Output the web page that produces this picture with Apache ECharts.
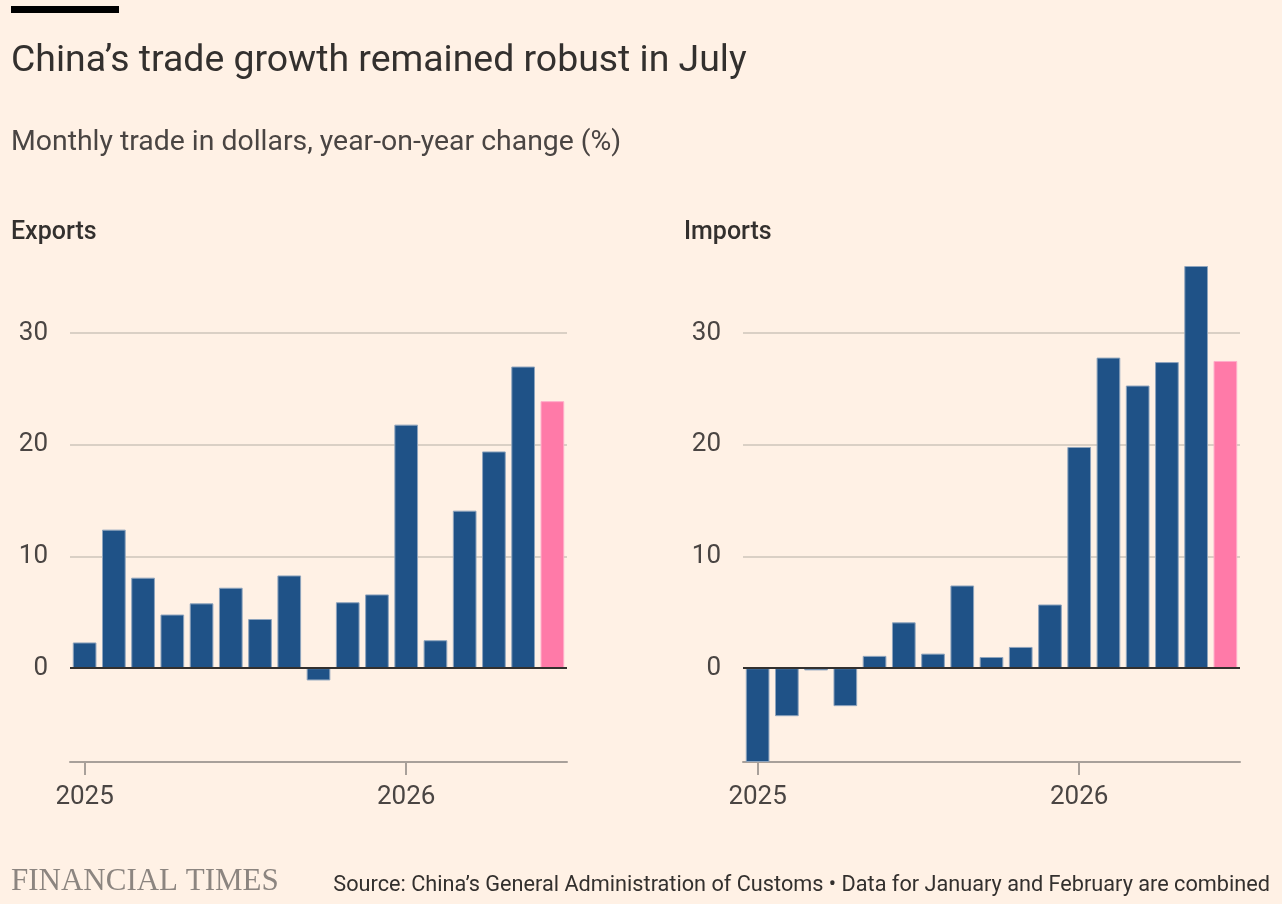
<!DOCTYPE html>
<html>
<head>
<meta charset="utf-8">
<script src="https://cdn.jsdelivr.net/npm/echarts@6/dist/echarts.min.js"></script>
<style>
  html, body { margin: 0; padding: 0; background: #fff1e5; }
  #chart { width: 1282px; height: 904px; }
</style>
</head>
<body>
<div id="chart"></div>
<script>
// monthly categories, Jan and Feb combined
const months = [
  '2025 Jan-Feb', '2025 Mar', '2025 Apr', '2025 May', '2025 Jun', '2025 Jul',
  '2025 Aug', '2025 Sep', '2025 Oct', '2025 Nov', '2025 Dec',
  '2026 Jan-Feb', '2026 Mar', '2026 Apr', '2026 May', '2026 Jun', '2026 Jul'
]
const exportsYoY = [2.3, 12.4, 8.1, 4.8, 5.8, 7.2, 4.4, 8.3, -1.1, 5.9, 6.6, 21.8, 2.5, 14.1, 19.4, 27.0, 23.9]
const importsYoY = [-8.4, -4.3, -0.2, -3.4, 1.1, 4.1, 1.3, 7.4, 1.0, 1.9, 5.7, 19.8, 27.8, 25.3, 27.4, 36.0, 27.5]
const yTicks = [0, 10, 20, 30]
const yearLabels = ['2025', '2026']

const font = 'Roboto'
const dark = '#33302e'
const mid = '#4a4543'
const blue = '#1f5287'
const pink = '#ff7aa8'

const panels = [
  { name: 'Exports', values: exportsYoY, left: 70 },
  { name: 'Imports', values: importsYoY, left: 743 }
]

// only the first month of each year gets a tick and label
const isYearStart = i => yearLabels.some(y => months[i] === y + ' Jan-Feb')

let chart = echarts.init(document.getElementById('chart'))

let grids = [], xAxes = [], yAxes = [], series = []
panels.forEach((p, k) => {
  grids.push({ left: p.left, width: 497, top: 266, height: 496, containLabel: false })
  xAxes.push({
    gridIndex: k,
    type: 'category',
    data: months,
    axisLine: { onZero: false, lineStyle: { color: '#a8a09a', width: 2 } },
    axisTick: { show: true, alignWithLabel: true, interval: isYearStart, length: 13, lineStyle: { color: '#a8a09a', width: 2 } },
    axisLabel: { interval: isYearStart, formatter: v => v.slice(0, 4), color: mid, fontSize: 26, fontFamily: font, margin: 22 },
    splitLine: { show: false }
  })
  yAxes.push({
    gridIndex: k,
    type: 'value',
    min: -8.4,
    max: 36,
    axisLine: { show: false },
    axisTick: { show: false, customValues: yTicks },
    axisLabel: { customValues: yTicks, color: mid, fontSize: 26, fontFamily: font, margin: 22 },
    splitLine: { show: true, lineStyle: { color: '#cec4ba', width: 1.5 } }
  })
  let last = p.values.length - 1
  series.push({
    type: 'bar',
    xAxisIndex: k,
    yAxisIndex: k,
    barCategoryGap: '19%',
    data: p.values.map((v, i) => i === last
      ? { value: v, itemStyle: { color: pink, borderColor: '#ffadc9' } }
      : v),
    itemStyle: { color: blue, borderColor: '#8ea4bd', borderWidth: 1 },
    markLine: {
      silent: true,
      symbol: ['none', 'none'],
      label: { show: false },
      lineStyle: { color: dark, width: 2, type: 'solid' },
      data: [{ yAxis: 0 }]
    }
  })
})

const option = {
  backgroundColor: '#fff1e5',
  animation: false,
  grid: grids,
  xAxis: xAxes,
  yAxis: yAxes,
  series: series,
  graphic: [
    { type: 'rect', shape: { x: 11, y: 6, width: 108, height: 7 }, style: { fill: '#000' } },
    { type: 'text', x: 11, y: 61.5, style: { text: 'China’s trade growth remained robust in July', font: '37.4px ' + font, fill: dark, verticalAlign: 'middle' } },
    { type: 'text', x: 11, y: 142.7, style: { text: 'Monthly trade in dollars, year-on-year change (%)', font: '28.4px ' + font, fill: mid, verticalAlign: 'middle' } },
    { type: 'text', x: 11, y: 232.5, style: { text: 'Exports', font: '500 25px ' + font, fill: dark, verticalAlign: 'middle' } },
    { type: 'text', x: 684, y: 232.5, style: { text: 'Imports', font: '500 25px ' + font, fill: dark, verticalAlign: 'middle' } },
    { type: 'text', x: 11, y: 882, style: { text: 'FINANCIAL TIMES', font: '31px "Liberation Serif"', fill: '#8c8580', verticalAlign: 'middle' } },
    { type: 'text', x: 1270, y: 885.3, style: { text: 'Source: China’s General Administration of Customs • Data for January and February are combined', font: '21.7px ' + font, fill: dark, align: 'right', verticalAlign: 'middle' } }
  ]
}
chart.setOption(option)
</script>
</body>
</html>
